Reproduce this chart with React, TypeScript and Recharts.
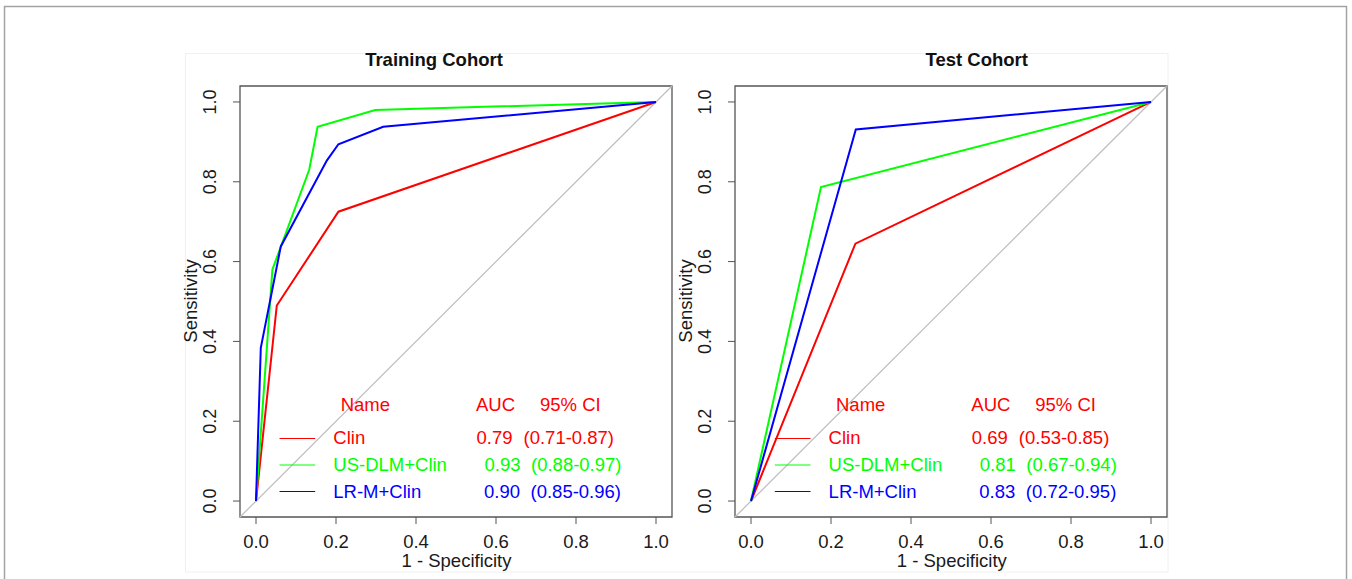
import React from "react";
import { LineChart, Line, XAxis, YAxis, ReferenceLine, ReferenceArea } from "recharts";

const FONT = '"Liberation Sans", Arial, Helvetica, sans-serif';

const AXIS_TICKS = [0, 0.2, 0.4, 0.6, 0.8, 1.0];

// Training cohort ROC vertices (1 - specificity, sensitivity)
const TRAIN_CLIN_FPR = [0, 0.052, 0.206, 1];
const TRAIN_CLIN_TPR = [0, 0.49, 0.725, 1];
const TRAIN_DLM_FPR = [0, 0.041, 0.133, 0.154, 0.298, 1];
const TRAIN_DLM_TPR = [0, 0.58, 0.83, 0.938, 0.98, 1];
const TRAIN_LRM_FPR = [0, 0.012, 0.062, 0.177, 0.206, 0.318, 1];
const TRAIN_LRM_TPR = [0, 0.384, 0.638, 0.853, 0.894, 0.938, 1];

// Test cohort ROC vertices
const TEST_CLIN_FPR = [0, 0.261, 1];
const TEST_CLIN_TPR = [0, 0.645, 1];
const TEST_DLM_FPR = [0, 0.175, 1];
const TEST_DLM_TPR = [0, 0.787, 1];
const TEST_LRM_FPR = [0, 0.262, 1];
const TEST_LRM_TPR = [0, 0.931, 1];

const MODEL_NAMES = ["Clin", "US-DLM+Clin", "LR-M+Clin"];
const MODEL_COLORS = ["#ff0000", "#00ff00", "#0000ff"];
const TRAIN_AUC = ["0.79", "0.93", "0.90"];
const TRAIN_CI = ["(0.71-0.87)", "(0.88-0.97)", "(0.85-0.96)"];
const TEST_AUC = ["0.69", "0.81", "0.83"];
const TEST_CI = ["(0.53-0.85)", "(0.67-0.94)", "(0.72-0.95)"];

const zip = (xs: number[], ys: number[]) => xs.map((x, i) => ({ x, y: ys[i] }));

const TRAIN_SERIES = [
  zip(TRAIN_CLIN_FPR, TRAIN_CLIN_TPR),
  zip(TRAIN_DLM_FPR, TRAIN_DLM_TPR),
  zip(TRAIN_LRM_FPR, TRAIN_LRM_TPR),
];
const TEST_SERIES = [
  zip(TEST_CLIN_FPR, TEST_CLIN_TPR),
  zip(TEST_DLM_FPR, TEST_DLM_TPR),
  zip(TEST_LRM_FPR, TEST_LRM_TPR),
];

const FS = 18.5;
const TEXT = "#1a1a1a";

const XTick = (props: any) => {
  const { x, payload } = props;
  return (
    <text x={x} y={547.5} textAnchor="middle" fontSize={FS} fontFamily={FONT} fill={TEXT}>
      {Number(payload.value).toFixed(1)}
    </text>
  );
};

const YTick = (props: any) => {
  const { y, payload } = props;
  const tx = 46;
  return (
    <text
      x={tx}
      y={y}
      transform={`rotate(-90 ${tx} ${y})`}
      textAnchor="middle"
      fontSize={18}
      fontFamily={FONT}
      fill={TEXT}
    >
      {Number(payload.value).toFixed(1)}
    </text>
  );
};

// legend layout (page x for the left panel, shifted by dx for the right one)
const ROW_Y = [444, 471, 498];
const LINE_Y = [438.5, 465, 491.5];
const AUC_X = [476.5, 484.5, 484];
const CI_X = [523.5, 531, 530.5];

function Panel({ dx, series }: { dx: number; series: { x: number; y: number }[][] }) {
  return (
    <div style={{ position: "absolute", left: 170 + dx, top: 0 }}>
      <LineChart width={520} height={579} margin={{ top: 86, right: 18, bottom: 0, left: 0 }}>
        <XAxis
          type="number"
          dataKey="x"
          domain={[-0.04, 1.04]}
          ticks={AXIS_TICKS}
          axisLine={false}
          tickLine={{ stroke: "#555" }}
          tickSize={7}
          height={62}
          tick={<XTick />}
          allowDataOverflow
        />
        <YAxis
          type="number"
          dataKey="y"
          domain={[-0.04, 1.04]}
          ticks={AXIS_TICKS}
          axisLine={false}
          tickLine={{ stroke: "#555" }}
          tickSize={7}
          width={70}
          tick={<YTick />}
          allowDataOverflow
        />
        <ReferenceArea
          x1={-0.04}
          x2={1.04}
          y1={-0.04}
          y2={1.04}
          fill="none"
          stroke="#555"
          strokeWidth={1.3}
          ifOverflow="visible"
        />
        <ReferenceLine
          segment={[
            { x: -0.04, y: -0.04 },
            { x: 1.04, y: 1.04 },
          ]}
          stroke="#bebebe"
          strokeWidth={1.2}
          ifOverflow="visible"
        />
        {series.map((pts, i) => (
          <Line
            key={MODEL_NAMES[i]}
            name={MODEL_NAMES[i]}
            data={pts}
            dataKey="y"
            type="linear"
            stroke={MODEL_COLORS[i]}
            strokeWidth={2}
            dot={false}
            activeDot={false}
            isAnimationActive={false}
          />
        ))}
      </LineChart>
    </div>
  );
}

function Annotations({ dx, title, titleX, auc, ci }: { dx: number; title: string; titleX: number; auc: string[]; ci: string[] }) {
  return (
    <g fontFamily={FONT} fontSize={FS}>
      <text x={titleX} y={66} textAnchor="middle" fontWeight="bold" fill="#111">
        {title}
      </text>
      <text x={456.5 + dx} y={567} textAnchor="middle" fill={TEXT}>
        1 - Specificity
      </text>
      <text x={196.5 + dx} y={301} textAnchor="middle" transform={`rotate(-90 ${196.5 + dx} 301)`} fill={TEXT}>
        Sensitivity
      </text>
      <text x={340.7 + dx} y={411} fill="#ff0000">Name</text>
      <text x={476 + dx} y={411} fill="#ff0000">AUC</text>
      <text x={540 + dx} y={411} fill="#ff0000">95% CI</text>
      {MODEL_NAMES.map((name, i) => (
        <g key={name}>
          <line x1={279.5 + dx} x2={315.2 + dx} y1={LINE_Y[i]} y2={LINE_Y[i]} stroke={MODEL_COLORS[i]} strokeWidth={1.2} />
          <text x={333.3 + dx} y={ROW_Y[i]} fill={MODEL_COLORS[i]}>{name}</text>
          <text x={AUC_X[i] + dx} y={ROW_Y[i]} fill={MODEL_COLORS[i]}>{auc[i]}</text>
          <text x={CI_X[i] + dx} y={ROW_Y[i]} fill={MODEL_COLORS[i]}>{ci[i]}</text>
        </g>
      ))}
    </g>
  );
}

export default function App() {
  const dx = 495.3;
  return (
    <div style={{ position: "absolute", left: 0, top: 0, width: 1352, height: 579, background: "#fff", overflow: "hidden" }}>
      <svg width={1352} height={579} style={{ position: "absolute", left: 0, top: 0 }}>
        <rect x={4.5} y={6.5} width={1342} height={620} fill="#fff" stroke="#a3a3a3" strokeWidth={1.5} />
        <rect x={185.5} y={53.5} width={982.5} height={518.5} fill="#fff" stroke="#f0f0f0" strokeWidth={1} />
      </svg>
      <Panel dx={0} series={TRAIN_SERIES} />
      <Panel dx={dx} series={TEST_SERIES} />
      <svg width={1352} height={579} style={{ position: "absolute", left: 0, top: 0, pointerEvents: "none" }}>
        <Annotations dx={0} title="Training Cohort" titleX={434} auc={TRAIN_AUC} ci={TRAIN_CI} />
        <Annotations dx={dx} title="Test Cohort" titleX={976.7} auc={TEST_AUC} ci={TEST_CI} />
      </svg>
    </div>
  );
}
